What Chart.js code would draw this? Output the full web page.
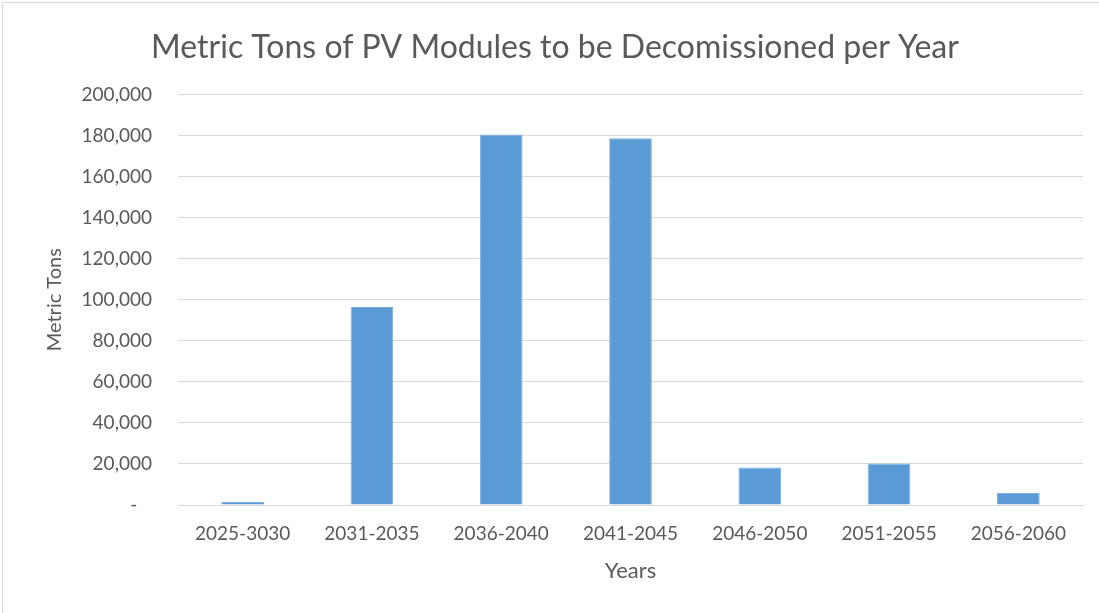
<!DOCTYPE html>
<html>
<head>
<meta charset="utf-8">
<script src="https://cdn.jsdelivr.net/npm/chart.js@4.4.1/dist/chart.umd.min.js"></script>
<style>
  html, body { margin: 0; padding: 0; background: #fff; overflow: hidden; }
  #wrap {
    position: relative;
    width: 1096px;
    height: 610px;
    margin: 2px 0 0 2px;
    border-top: 1px solid #d9d9d9;
    border-left: 1px solid #d9d9d9;
  }
</style>
</head>
<body>
<div id="wrap"><canvas id="chart"></canvas></div>
<script>
const categories = ['2025-3030', '2031-2035', '2036-2040', '2041-2045', '2046-2050', '2051-2055', '2056-2060'];
const tonnes = [1500, 96500, 180500, 178600, 18300, 20200, 5800];
const yTicks = [0, 20000, 40000, 60000, 80000, 100000, 120000, 140000, 160000, 180000, 200000];
const chartTitle = 'Metric Tons of PV Modules to be Decomissioned per Year';

const textColor = '#595959';
const fontFamily = 'Lato, "Open Sans", sans-serif';

const formatTick = (v) => {
  if (v === 0) return '-   ';
  return v.toLocaleString('en-US');
};

// the built-in title only reserves the space; this draws it a bit right of the box centre
const centredTitle = {
  id: 'centredTitle',
  afterDraw(chart) {
    const box = chart.titleBlock;
    const ctx = chart.ctx;
    ctx.save();
    ctx.fillStyle = textColor;
    ctx.font = `normal 32px ${fontFamily}`;
    ctx.textAlign = 'center';
    ctx.textBaseline = 'middle';
    const midY = box.top + 25 + 32 * 1.2 / 2;
    ctx.fillText(chartTitle, 552, midY);
    ctx.restore();
  },
};

new Chart(document.getElementById('chart'), {
  type: 'bar',
  data: {
    labels: categories,
    datasets: [
      {
        label: 'Metric Tons',
        data: tonnes,
        backgroundColor: '#5b9bd5',
        borderColor: '#7aafe0',
        borderWidth: 1,
        barPercentage: 0.33,
        categoryPercentage: 1,
      },
    ],
  },
  plugins: [centredTitle],
  options: {
    responsive: true,
    maintainAspectRatio: false,
    animation: false,
    layout: {
      padding: { left: 0, right: 16, top: 0, bottom: 0 },
    },
    plugins: {
      legend: { display: false },
      tooltip: { enabled: false },
      title: {
        display: true,
        text: chartTitle,
        color: 'rgba(0,0,0,0)',
        font: { family: fontFamily, size: 32, weight: 'normal' },
        padding: { top: 25, bottom: 28 },
      },
    },
    scales: {
      x: {
        grid: { display: false, drawTicks: false },
        border: { display: true, color: '#d9d9d9', width: 1 },
        ticks: {
          color: textColor,
          font: { family: fontFamily, size: 19 },
          padding: 17,
          maxRotation: 0,
        },
        title: {
          display: true,
          text: 'Years',
          color: textColor,
          font: { family: fontFamily, size: 22 },
          padding: { top: 0, bottom: 29 },
        },
        afterFit: (scale) => {
          scale.height = 108;
        },
      },
      y: {
        min: 0,
        max: 200000,
        afterBuildTicks: (scale) => {
          scale.ticks = yTicks.map((v) => ({ value: v }));
        },
        grid: { color: '#d9d9d9', drawTicks: false, lineWidth: 1 },
        border: { display: false },
        ticks: {
          color: textColor,
          font: { family: fontFamily, size: 19 },
          padding: 26,
          callback: formatTick,
        },
        title: {
          display: true,
          text: 'Metric Tons',
          color: textColor,
          font: { family: fontFamily, size: 20 },
          padding: { top: 40, bottom: 0 },
        },
        afterFit: (scale) => {
          scale.width = 175;
        },
      },
    },
  },
});
</script>
</body>
</html>
